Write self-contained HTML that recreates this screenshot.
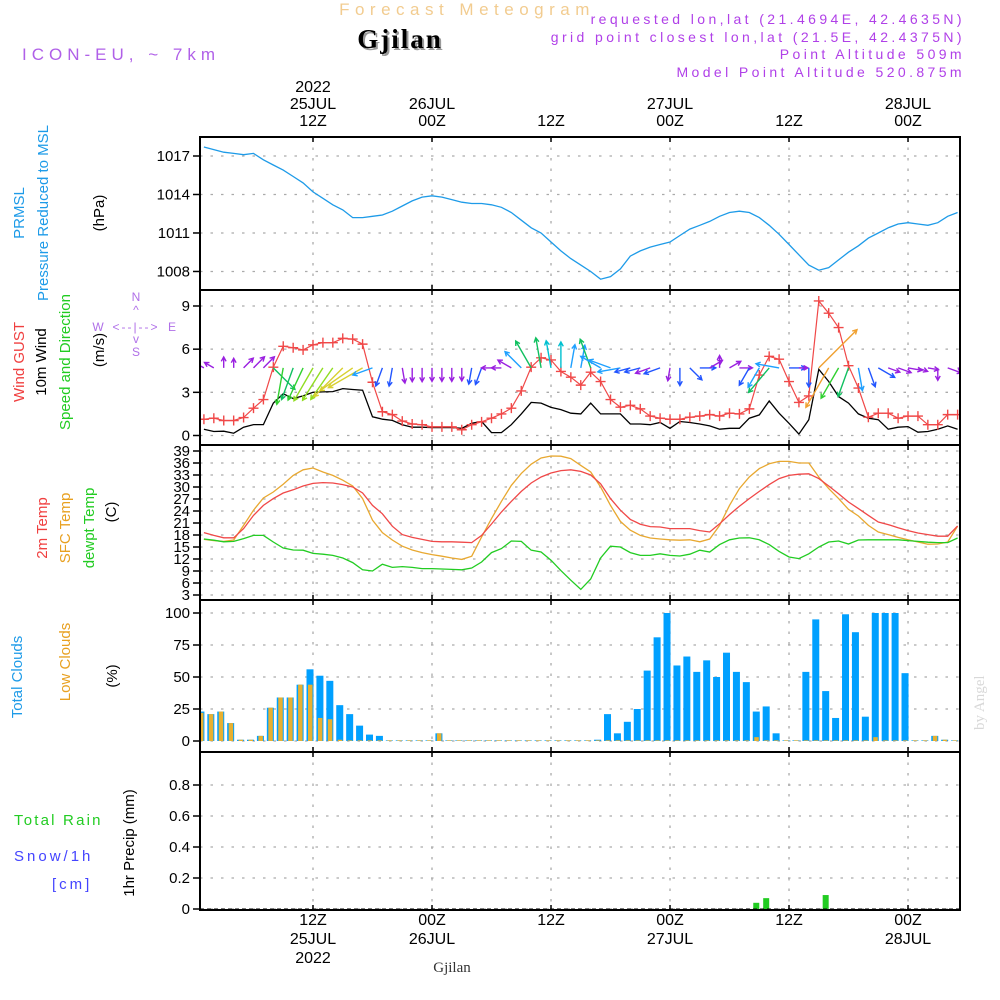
<!DOCTYPE html>
<html>
<head>
<meta charset="utf-8">
<style>
  html,body{margin:0;padding:0;background:#fff;}
  svg{display:block;}
  text{font-family:"Liberation Sans",sans-serif;}
</style>
</head>
<body>
<svg id="chart" width="1000" height="1000" viewBox="0 0 1000 1000" xmlns="http://www.w3.org/2000/svg">
  <rect x="0" y="0" width="1000" height="1000" fill="#fff"/>
  <!-- header -->
  <text x="467" y="15" text-anchor="middle" font-size="17" fill="#f2cc90" letter-spacing="5.5">Forecast Meteogram</text>
  <text x="402" y="50" text-anchor="middle" font-size="27" font-weight="bold" fill="#9a9a9a" letter-spacing="2" style="font-family:'Liberation Serif',serif">Gjilan</text>
  <text x="400" y="48" text-anchor="middle" font-size="27" font-weight="bold" fill="#000" letter-spacing="2" style="font-family:'Liberation Serif',serif">Gjilan</text>
  <text x="22" y="60" font-size="17" fill="#b060e8" letter-spacing="5">ICON-EU, ~ 7km</text>
  <text x="965" y="24" text-anchor="end" font-size="14" fill="#b040e8" letter-spacing="3.4">requested lon,lat (21.4694E, 42.4635N)</text>
  <text x="965" y="42" text-anchor="end" font-size="14" fill="#b040e8" letter-spacing="3.4">grid point closest lon,lat (21.5E, 42.4375N)</text>
  <text x="965" y="59" text-anchor="end" font-size="14" fill="#b040e8" letter-spacing="3.4">Point Altitude 509m</text>
  <text x="965" y="77" text-anchor="end" font-size="14" fill="#b040e8" letter-spacing="3.4">Model Point Altitude 520.875m</text>
  <text transform="translate(984,730) rotate(-90)" font-size="15" fill="#d8d8d8" style="font-family:'Liberation Serif',serif">by Angel</text>
  <text x="452" y="972" text-anchor="middle" font-size="15" fill="#333" style="font-family:'Liberation Serif',serif">Gjilan</text>

  <!-- left axis titles -->
  <text transform="translate(24,213) rotate(-90)" text-anchor="middle" font-size="15" fill="#1e9be8">PRMSL</text>
  <text transform="translate(48,213) rotate(-90)" text-anchor="middle" font-size="15" fill="#1e9be8">Pressure Reduced to MSL</text>
  <text transform="translate(104,213) rotate(-90)" text-anchor="middle" font-size="15" fill="#000">(hPa)</text>

  <text transform="translate(24,362) rotate(-90)" text-anchor="middle" font-size="15" fill="#f04040">Wind GUST</text>
  <text transform="translate(46,362) rotate(-90)" text-anchor="middle" font-size="15" fill="#000">10m Wind</text>
  <text transform="translate(70,362) rotate(-90)" text-anchor="middle" font-size="15" fill="#22cc22">Speed and Direction</text>
  <text transform="translate(104,350) rotate(-90)" text-anchor="middle" font-size="15" fill="#000">(m/s)</text>
  <g fill="#b070e8" font-size="12" text-anchor="middle">
    <text x="136" y="301">N</text>
    <text x="136" y="314">^</text>
    <text x="136" y="331" letter-spacing="2">&lt;--|--&gt;</text>
    <text x="98" y="331">W</text>
    <text x="172" y="331">E</text>
    <text x="136" y="343">v</text>
    <text x="136" y="356">S</text>
  </g>

  <text transform="translate(47,528) rotate(-90)" text-anchor="middle" font-size="15" fill="#f04040">2m Temp</text>
  <text transform="translate(70,528) rotate(-90)" text-anchor="middle" font-size="15" fill="#e8a020">SFC Temp</text>
  <text transform="translate(94,528) rotate(-90)" text-anchor="middle" font-size="15" fill="#22cc22">dewpt Temp</text>
  <text transform="translate(116,512) rotate(-90)" text-anchor="middle" font-size="15" fill="#000">(C)</text>

  <text transform="translate(22,677) rotate(-90)" text-anchor="middle" font-size="15" fill="#1e9be8">Total Clouds</text>
  <text transform="translate(70,662) rotate(-90)" text-anchor="middle" font-size="15" fill="#e8a020">Low Clouds</text>
  <text transform="translate(117,676) rotate(-90)" text-anchor="middle" font-size="15" fill="#000">(%)</text>

  <text transform="translate(134,843) rotate(-90)" text-anchor="middle" font-size="15" fill="#000">1hr Precip (mm)</text>
  <text x="14" y="825" font-size="15" fill="#22cc22" letter-spacing="2.2">Total  Rain</text>
  <text x="14" y="861" font-size="15" fill="#4444ff" letter-spacing="3">Snow/1h</text>
  <text x="52" y="889" font-size="15" fill="#4444ff" letter-spacing="3">[cm]</text>

  <g id="plot"></g>
</svg>
<script>
// ---- data (hourly, t = 1..77 hours since 00Z 25JUL2022) ----
const startHour = 1;
const pressure = [1017.7,1017.5,1017.3,1017.2,1017.1,1017.2,1016.7,1016.3,1015.9,1015.4,1014.9,1014.2,1013.7,1013.2,1012.8,1012.2,1012.2,1012.3,1012.4,1012.7,1013.1,1013.5,1013.8,1013.9,1013.8,1013.6,1013.4,1013.3,1013.3,1013.2,1013.0,1012.6,1012.0,1011.4,1011.0,1010.3,1009.6,1009.0,1008.5,1008.0,1007.4,1007.6,1008.2,1009.2,1009.6,1009.9,1010.1,1010.3,1010.8,1011.3,1011.6,1011.9,1012.3,1012.6,1012.7,1012.6,1012.2,1011.6,1010.9,1010.1,1009.3,1008.5,1008.1,1008.3,1008.9,1009.5,1010.0,1010.6,1011.0,1011.4,1011.7,1011.8,1011.7,1011.6,1011.8,1012.3,1012.6];
const windGust = [1.13,1.2,1.04,1.04,1.25,1.9,2.5,4.75,6.2,6.1,5.95,6.3,6.45,6.45,6.75,6.7,6.35,3.7,1.65,1.45,1.0,0.8,0.75,0.6,0.6,0.6,0.4,0.75,0.95,1.2,1.5,1.9,3.1,4.75,5.4,5.25,4.45,4.05,3.5,4.4,3.75,2.5,1.97,2.1,1.85,1.35,1.2,1.13,1.13,1.27,1.35,1.45,1.35,1.55,1.5,1.85,4.2,5.5,5.3,3.75,2.3,2.75,9.35,8.5,7.5,4.85,3.3,1.27,1.55,1.55,1.2,1.35,1.35,0.75,0.75,1.45,1.45];
const wind10m = [0.44,0.28,0.3,0.16,0.58,0.76,0.76,2.25,2.9,2.57,2.75,3.0,3.03,3.05,3.26,3.2,3.15,1.3,1.13,1.05,0.75,0.58,0.58,0.55,0.55,0.55,0.5,0.85,0.97,0.2,0.2,0.75,1.5,2.3,2.25,1.95,1.8,1.55,1.5,2.25,1.5,1.5,1.5,0.8,0.8,0.75,0.9,0.5,0.97,0.9,0.8,0.67,0.44,0.5,0.5,1.2,1.43,2.4,1.55,0.85,0.1,1.1,4.6,3.75,2.7,2.25,1.5,1.2,1.1,0.44,0.58,0.62,0.23,0.28,0.44,0.67,0.44];
const windDir = [300,300,0,0,45,45,45,135,190,200,205,210,212,215,225,235,240,250,200,190,170,180,180,180,180,180,180,190,200,270,270,300,315,330,350,350,0,10,10,340,300,290,260,255,255,250,250,190,180,135,90,60,0,60,90,210,210,220,280,90,90,180,45,210,210,200,170,160,120,110,110,100,110,100,180,110,110];
const temp2m = [18.6,17.9,17.3,17.3,19.6,22.9,25.4,27.1,28.5,29.3,30.25,30.9,31.1,31.0,30.6,30.0,28.5,25.4,23.3,20.2,18.1,17.4,16.9,16.4,16.3,16.3,16.2,16.1,17.9,20.75,23.75,26.4,28.9,31.0,32.5,33.5,34.1,34.3,33.9,33.0,30.8,27.1,24.2,21.9,20.7,20.1,20.0,19.6,19.6,19.6,19.1,18.75,20.8,23.1,25.2,27.1,28.9,30.6,32.1,32.9,33.2,33.3,32.1,30.25,28.3,26.25,24.6,22.9,21.25,20.6,19.8,19.1,18.5,18.1,17.7,17.7,20.25];
const tempSfc = [16.9,16.6,16.4,16.75,20.4,24.2,27.25,28.75,30.7,32.9,34.3,34.75,33.75,32.9,31.7,30.25,27.1,21.7,18.6,16.75,15.2,14.25,13.6,13.1,12.7,12.25,11.9,12.7,17.5,22.1,26.4,30.4,33.4,35.7,37.25,37.75,37.7,37.1,35.4,33.75,30.0,25.4,21.4,19.2,17.9,17.25,17.0,16.8,16.7,16.8,16.3,17.0,20.4,25.4,29.6,32.5,34.6,35.8,36.4,36.4,36.0,36.0,32.5,29.6,27.1,24.4,22.75,20.4,18.75,18.1,17.4,16.8,16.25,15.7,15.75,16.25,20.2];
const dewpt = [17.0,16.7,16.3,16.4,17.1,17.9,17.9,16.25,14.75,14.25,14.2,13.4,13.2,12.9,12.25,11.1,9.3,9.0,10.7,9.9,10.1,9.9,9.6,9.6,9.5,9.4,9.3,9.75,11.25,13.6,14.6,16.5,16.4,14.2,13.75,11.7,9.1,6.7,4.4,7.0,12.25,15.2,15.0,13.6,12.9,12.9,13.3,12.9,12.75,13.2,14.2,13.75,15.6,16.8,17.25,17.3,16.8,15.6,13.9,12.5,12.1,13.3,15.0,16.25,16.5,15.75,16.75,16.8,16.8,16.8,16.8,16.6,16.4,16.2,16.1,16.1,17.25];
const totalClouds = [23,21,23,14,1,1,4,26,34,34,44,56,51,47,28,21,12,5,4,0.5,0.5,0.5,0.5,0.5,6,0.5,0.5,0.5,0.5,0.5,0.5,0.5,0.5,0.5,0.5,0.5,0.5,0.5,0.5,0.5,1,21,6,15,25,55,81,100,59,66,54,63,50,69,54,46,23,27,6,0.5,0.5,54,95,39,18,99,85,19,100,100,100,53,0.5,0.5,4,1,0.5];
const lowClouds = [22,21,23,14,1,1,4,26,34,34,44,44,18,17,1,0.5,0.5,0.5,0.5,0.5,0.5,0.5,0.5,0.5,6,0.5,0.5,0.5,0.5,0.5,0.5,0.5,0.5,0.5,0.5,0.5,0.5,0.5,0.5,0.5,0.5,0.5,0.5,0.5,0.5,0.5,0.5,0.5,0.5,0.5,0.5,0.5,0.5,0.5,0.5,0.5,3,0.5,0.5,0.5,0.5,0.5,0.5,0.5,0.5,0.5,0.5,0.5,3,0.5,0.5,0.5,0.5,0.5,4,1,0.5];
const precip = [0,0,0,0,0,0,0,0,0,0,0,0,0,0,0,0,0,0,0,0,0,0,0,0,0,0,0,0,0,0,0,0,0,0,0,0,0,0,0,0,0,0,0,0,0,0,0,0,0,0,0,0,0,0,0,0,0.04,0.07,0,0,0,0,0,0.09,0,0,0,0,0,0,0,0,0,0,0,0,0];
const pressureTicks = [1008,1011,1014,1017];
const windTicks = [0,3,6,9];
const tempTicks = [3,6,9,12,15,18,21,24,27,30,33,36,39];
const cloudTicks = [0,25,50,75,100];
const precipTicks = [0,0.2,0.4,0.6,0.8];
const precipTickLabels = ["0","0.2","0.4","0.6","0.8"];
const timeTickHours = [12,24,36,48,60,72];
const timeTickHourLabels = ["12Z","00Z","12Z","00Z","12Z","00Z"];
const timeTickDateLabels = ["25JUL","26JUL","","27JUL","","28JUL"];

// ---- scales ----
const PL = 200, PR = 960;
function X(t){ return 313 + (t-12)*9.917; }
const panels = {
  p: {top:137,bot:290, y:v=>156+(1017-v)*12.83},
  w: {top:290,bot:445, y:v=>435.5-v*14.39},
  t: {top:445,bot:600, y:v=>451+(39-v)*4},
  c: {top:600,bot:752, y:v=>741-v*1.28},
  r: {top:752,bot:910, y:v=>909-v*155}
};
const NS="http://www.w3.org/2000/svg";
const plot=document.getElementById('plot');
function mk(tag,attrs,parent){const e=document.createElementNS(NS,tag);for(const k in attrs)e.setAttribute(k,attrs[k]);(parent||plot).appendChild(e);return e;}

// ---- grids, ticks, frames ----
function panelFrame(key,name,ticks,labels){
  const p=panels[key];
  const g=mk('g',{});
  
  
  ticks.forEach((v,i)=>{
    const y=p.y(v);
    const gl=mk('line',{x1:PL,x2:PR,y1:y,y2:y,stroke:'#aaa','stroke-width':1.3,'stroke-dasharray':'2.5 8'},g);
    
    
    mk('line',{x1:PL-7,x2:PL,y1:y,y2:y,stroke:'#000','stroke-width':1.5},g);
    const tx=mk('text',{x:PL-10,y:y+5,'text-anchor':'end','font-size':15,fill:'#000'},g);
    tx.textContent=labels?labels[i]:String(v);
    
    
  });
  timeTickHours.forEach(h=>{
    const x=X(h);
    const vl=mk('line',{x1:x,x2:x,y1:p.top,y2:p.bot,stroke:'#aaa','stroke-width':1.3,'stroke-dasharray':'2.5 8'},g);
    
    
    mk('line',{x1:x,x2:x,y1:p.top,y2:p.top+5,stroke:'#000','stroke-width':1.5},g);
    mk('line',{x1:x,x2:x,y1:p.bot-5,y2:p.bot,stroke:'#000','stroke-width':1.5},g);
  });
  return g;
}
panelFrame('p','pressure',pressureTicks);
panelFrame('w','wind',windTicks);
panelFrame('t','temperature',tempTicks);
panelFrame('c','clouds',cloudTicks);
panelFrame('r','precip',precipTicks,precipTickLabels);

// ---- series ----
function linePath(arr,key){
  const p=panels[key];
  return arr.map((v,i)=>(i?'L':'M')+X(startHour+i).toFixed(1)+','+p.y(v).toFixed(1)).join(' ');
}
const clipP=mk('clipPath',{id:'clipPlot'});
mk('rect',{x:PL,y:137,width:PR-PL,height:773},clipP);
const series=mk('g',{'clip-path':'url(#clipPlot)'});



let e;
e=mk('path',{d:linePath(pressure,'p'),fill:'none',stroke:'#1e9be8','stroke-width':1.3},series);



// clouds
const cg=mk('g',{},series);


totalClouds.forEach((v,i)=>{
  const x=X(startHour+i)-3, p=panels.c;
  const b=mk('rect',{x:x-3.5,y:p.y(v),width:7,height:p.y(0)-p.y(v),fill:'#00a0ff'},cg);
  
  
  const lv=lowClouds[i];
  const b2=mk('rect',{x:x-2,y:p.y(lv),width:4.5,height:p.y(0)-p.y(lv),fill:'#e8b030'},cg);
  
  
});

// precip
const rg=mk('g',{},series);


precip.forEach((v,i)=>{
  if(v<=0) return;
  const x=X(startHour+i)-3, p=panels.r;
  const b=mk('rect',{x:x-3,y:p.y(v),width:6,height:p.y(0)-p.y(v),fill:'#22cc22'},rg);
  
  
});
e=mk('line',{x1:PL,x2:PR,y1:panels.r.y(0),y2:panels.r.y(0),stroke:'#000','stroke-width':1,'stroke-dasharray':'4 3'},series);

// temperature
e=mk('path',{d:linePath(tempSfc,'t'),fill:'none',stroke:'#e8a830','stroke-width':1.3},series);


e=mk('path',{d:linePath(temp2m,'t'),fill:'none',stroke:'#f04848','stroke-width':1.3},series);


e=mk('path',{d:linePath(dewpt,'t'),fill:'none',stroke:'#22cc22','stroke-width':1.3},series);



// wind
e=mk('path',{d:linePath(wind10m,'w'),fill:'none',stroke:'#000','stroke-width':1.3},series);


e=mk('path',{d:linePath(windGust,'w'),fill:'none',stroke:'#f04848','stroke-width':1.2},series);


const gm=mk('g',{},series);


windGust.forEach((v,i)=>{
  const x=X(startHour+i), y=panels.w.y(v);
  const m=mk('path',{d:`M${x-5},${y}H${x+5}M${x},${y-5}V${y+5}`,stroke:'#f04848','stroke-width':1.4},gm);
  
  
});
function windColor(s){
  if(s<0.8) return '#9a20e0';
  if(s<1.3) return '#2255ff';
  if(s<1.8) return '#1ea0ff';
  if(s<2.2) return '#00c0d0';
  if(s<2.6) return '#10c060';
  if(s<3.0) return '#30d030';
  if(s<3.15) return '#90dd20';
  if(s<3.5) return '#d8d030';
  return '#f0a030';
}
const ag=mk('g',{},series);


windDir.forEach((d,i)=>{
  const s=wind10m[i];
  const x0=X(startHour+i), y0=panels.w.y(4.7);
  const L=8+10*s, a=d*Math.PI/180;
  const x1=x0+L*Math.sin(a), y1=y0-L*Math.cos(a);
  const h=5, a1=a+Math.PI-0.5, a2=a+Math.PI+0.5;
  const c=windColor(s);
  const arr=mk('path',{d:`M${x0.toFixed(1)},${y0.toFixed(1)}L${x1.toFixed(1)},${y1.toFixed(1)}M${(x1+h*Math.sin(a1)).toFixed(1)},${(y1-h*Math.cos(a1)).toFixed(1)}L${x1.toFixed(1)},${y1.toFixed(1)}L${(x1+h*Math.sin(a2)).toFixed(1)},${(y1-h*Math.cos(a2)).toFixed(1)}`,stroke:c,'stroke-width':1.4,fill:'none'},ag);
  
  
});

// panel borders
Object.keys(panels).forEach(k=>{
  const p=panels[k];
  const r=mk('rect',{x:PL,y:p.top,width:PR-PL,height:p.bot-p.top,fill:'none',stroke:'#000','stroke-width':2});
  
  
});

// time axis labels
timeTickHours.forEach((h,i)=>{
  const x=X(h);
  const t1=mk('text',{x:x,y:126,'text-anchor':'middle','font-size':16,fill:'#000'});
  t1.textContent=timeTickHourLabels[i];
  
  
  if(timeTickDateLabels[i]){
    const t2=mk('text',{x:x,y:109,'text-anchor':'middle','font-size':16,fill:'#000'});
    t2.textContent=timeTickDateLabels[i];
    
    
  }
  const b1=mk('text',{x:x,y:925,'text-anchor':'middle','font-size':16,fill:'#000'});
  b1.textContent=timeTickHourLabels[i];
  
  
  if(timeTickDateLabels[i]){
    const b2=mk('text',{x:x,y:944,'text-anchor':'middle','font-size':16,fill:'#000'});
    b2.textContent=timeTickDateLabels[i];
    
    
  }
});
e=mk('text',{x:X(12),y:92,'text-anchor':'middle','font-size':16,fill:'#000'});
e.textContent='2022';


e=mk('text',{x:X(12),y:963,'text-anchor':'middle','font-size':16,fill:'#000'});
e.textContent='2022';


</script>
</body>
</html>
